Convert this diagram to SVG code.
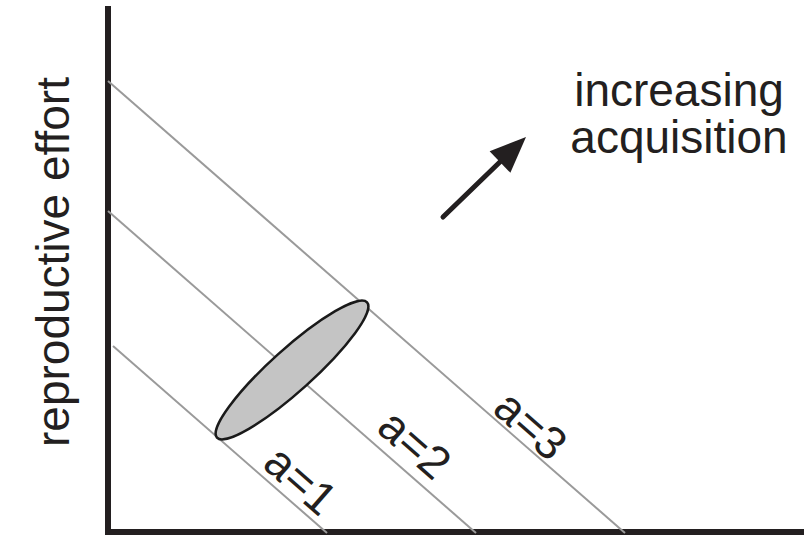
<svg xmlns="http://www.w3.org/2000/svg" width="804" height="535" viewBox="0 0 804 535">
<style>
text{font-family:"Liberation Sans",Arial,sans-serif;fill:#231f20;font-size:46px}
.iso{stroke:#9a9a9a;stroke-width:2;fill:none}
.axis{stroke:#231f20;stroke-width:6;fill:none}
</style>
<rect width="804" height="535" fill="#fff"/>
<g id="axes">
<line class="axis" x1="108" y1="6" x2="108" y2="535"/>
<line class="axis" x1="105" y1="532" x2="804" y2="532"/>
</g>
<g id="connectors">
<line class="iso" x1="108" y1="81" x2="625" y2="533"/>
<line class="iso" x1="108" y1="211" x2="476" y2="533"/>
<line class="iso" x1="113" y1="346" x2="327" y2="533"/>
</g>
<g id="ellipse">
<ellipse cx="292" cy="370" rx="101" ry="21" transform="rotate(-42 292 370)" fill="#c4c4c4" stroke="#1a1a1a" stroke-width="2.5"/>
</g>
<g id="arrow">
<line x1="443" y1="217" x2="503" y2="159" stroke="#231f20" stroke-width="5" stroke-linecap="round"/>
<polygon points="526,137 489.6,151.2 510.4,172.8" fill="#231f20"/>
</g>
<g id="label-increasing">
<text x="679" y="106" text-anchor="middle" font-size="48">increasing</text>
<text x="679" y="153" text-anchor="middle" font-size="48">acquisition</text>
</g>
<g id="ylabel">
<text transform="translate(69 262) rotate(-90)" text-anchor="middle" font-size="51">reproductive effort</text>
</g>
<g id="labels">
<text transform="translate(301 480) rotate(41.2)" x="0" y="16" text-anchor="middle">a=1</text>
<text transform="translate(415 444) rotate(41.2)" x="0" y="16" text-anchor="middle">a=2</text>
<text transform="translate(531 425) rotate(41.2)" x="0" y="16" text-anchor="middle">a=3</text>
</g>
</svg>
